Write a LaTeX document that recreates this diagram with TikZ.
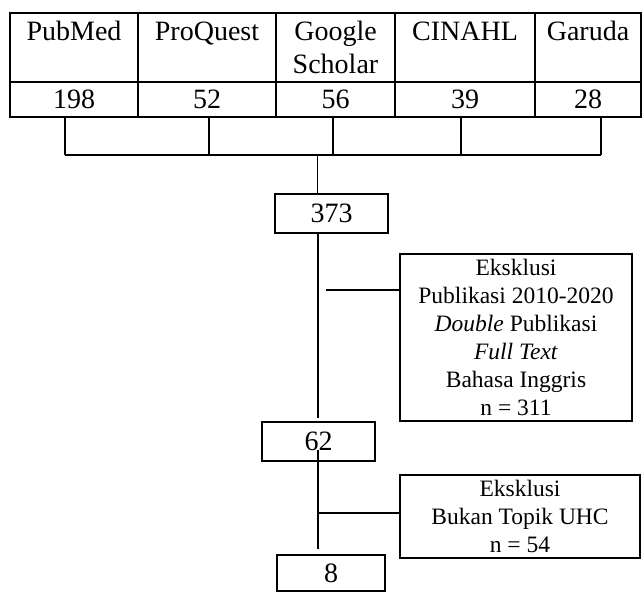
\documentclass[tikz,border=0pt]{standalone}
\usepackage{fontspec}
\setmainfont{Liberation Serif}
\begin{document}
\begin{tikzpicture}[x=1pt,y=-1pt,
  line width=1.4pt,
  cell/.style={draw, rectangle, inner sep=0pt, align=center, minimum height=#1},
  cell/.default=69pt,
  bigtext/.style={font=\fontsize{28}{33}\selectfont},
  numbox/.style={draw, rectangle, inner sep=0pt, bigtext},
  exbox/.style={draw, rectangle, inner sep=0pt, align=center, font=\fontsize{23.5}{28}\selectfont},
  conn/.style={line width=1.4pt}]
\useasboundingbox (0,0) rectangle (642,592);
% header row
\node[cell, bigtext, minimum width=128pt] (h1) at (74,47.5) {PubMed\\\phantom{Scholar}};
\node[cell, bigtext, minimum width=138pt] (h2) at (207,47.5) {ProQuest\\\phantom{Scholar}};
\node[cell, bigtext, minimum width=119pt] (h3) at (335.5,47.5) {Google\\Scholar};
\node[cell, bigtext, minimum width=140pt] (h4) at (465,47.5) {CINAHL\\\phantom{Scholar}};
\node[cell, bigtext, minimum width=106pt] (h5) at (588,47.5) {Garuda\\\phantom{Scholar}};
% numbers row
\node[cell=35pt, bigtext, minimum width=128pt] (v1) at (74,99.5) {198};
\node[cell=35pt, bigtext, minimum width=138pt] (v2) at (207,99.5) {52};
\node[cell=35pt, bigtext, minimum width=119pt] (v3) at (335.5,99.5) {56};
\node[cell=35pt, bigtext, minimum width=140pt] (v4) at (465,99.5) {39};
\node[cell=35pt, bigtext, minimum width=106pt] (v5) at (588,99.5) {28};
% bracket
\coordinate (b1) at (65,155);
\coordinate (b2) at (209,155);
\coordinate (b3) at (333,155);
\coordinate (b4) at (461,155);
\coordinate (b5) at (601,155);
\foreach \i in {1,...,5} {\draw[conn] (b\i) -- (b\i |- v\i.south);}
\draw[conn] (b1) -- (b5);
% boxes
\node[numbox, minimum width=113pt, minimum height=39pt] (n373) at (331.5,213.5) {373};
\node[numbox, minimum width=113pt, minimum height=39pt] (n62) at (318.5,441.5) {62};
\node[numbox, minimum width=108pt, minimum height=36pt] (n8) at (331,573) {8};
\node[exbox, minimum width=232pt, minimum height=167pt] (ex1) at (516,337.5)
  {Eksklusi\\Publikasi 2010-2020\\\textit{Double} Publikasi\\\textit{Full Text}\\Bahasa Inggris\\n = 311};
\node[exbox, minimum width=240pt, minimum height=83pt] (ex2) at (520,516.5)
  {Eksklusi\\Bukan Topik UHC\\n = 54};
% connectors
\coordinate (m) at (317.5,155);
\draw[conn] (m) -- (m |- n373.north);
\coordinate (s1) at (318,418);
\draw[conn] (s1 |- n373.south) -- (s1);
\coordinate (e1) at (326,290);
\draw[conn] (e1) -- (e1 -| ex1.west);
\coordinate (s2a) at (318,450);
\coordinate (s2b) at (318,549);
\draw[conn] (s2a) -- (s2b);
\coordinate (e2) at (318,513);
\draw[conn] (e2) -- (e2 -| ex2.west);
\end{tikzpicture}
\end{document}
